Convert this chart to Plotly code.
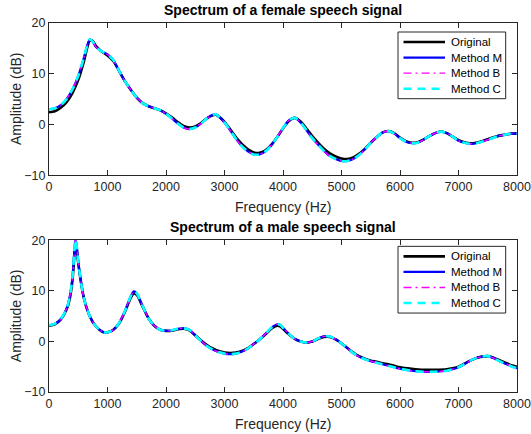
import plotly.graph_objects as go

# ---------------- data ----------------
female_freq = [0, 100, 200, 300, 400, 500, 600, 650, 700, 750, 800, 900, 1000, 1100, 1200, 1300, 1400, 1500,
               1600, 1700, 1800, 1900, 2000, 2100, 2200, 2300, 2400, 2500, 2600, 2700, 2800, 2850, 2900, 3000,
               3100, 3200, 3300, 3400, 3500, 3600, 3700, 3800, 3900, 4000, 4100, 4200, 4300, 4400, 4500, 4600,
               4700, 4800, 4900, 5000, 5100, 5200, 5300, 5400, 5500, 5600, 5700, 5800, 5900, 6000, 6100, 6200,
               6300, 6400, 6500, 6600, 6700, 6800, 6900, 7000, 7100, 7200, 7300, 7400, 7500, 7600, 7700, 7800,
               7900, 8000]
female_original = [2.4, 2.6, 3.3, 4.4, 6.2, 8.8, 12.6, 15.0, 16.6, 16.4, 15.5, 14.4, 13.6, 12.5, 10.5, 8.5, 6.8, 5.3,
                   4.2, 3.6, 3.2, 2.8, 2.2, 1.4, 0.5, -0.3, -0.6, -0.4, 0.3, 1.2, 1.8, 1.9, 1.6, 0.5,
                   -1.0, -2.6, -3.9, -4.9, -5.5, -5.6, -5.1, -4.0, -2.5, -0.8, 0.7, 1.3, 0.6, -0.8, -2.3, -3.6,
                   -4.8, -5.7, -6.3, -6.7, -6.8, -6.5, -5.8, -4.8, -3.6, -2.5, -1.6, -1.3, -1.7, -2.6, -3.3, -3.6,
                   -3.5, -3.0, -2.3, -1.7, -1.4, -1.7, -2.4, -3.1, -3.5, -3.7, -3.6, -3.3, -2.9, -2.5, -2.2, -2.0,
                   -1.8, -1.8]
female_method_m = [3.0, 3.2, 3.8, 5.0, 6.9, 9.6, 13.3, 15.5, 16.8, 16.3, 15.3, 14.4, 13.8, 12.7, 10.5, 8.5, 6.8, 5.3,
                   4.2, 3.6, 3.2, 2.8, 2.1, 1.2, 0.2, -0.6, -0.9, -0.6, 0.2, 1.2, 1.9, 2.0, 1.6, 0.4,
                   -1.2, -2.9, -4.3, -5.3, -5.9, -5.9, -5.3, -4.1, -2.5, -0.7, 0.8, 1.3, 0.4, -1.1, -2.7, -4.0,
                   -5.2, -6.2, -6.8, -7.2, -7.2, -6.8, -6.0, -4.9, -3.6, -2.5, -1.6, -1.3, -1.8, -2.7, -3.4, -3.7,
                   -3.6, -3.0, -2.3, -1.7, -1.4, -1.7, -2.4, -3.2, -3.6, -3.8, -3.7, -3.4, -3.0, -2.6, -2.2, -2.0,
                   -1.8, -1.8]
female_method_b = list(female_method_m)
female_method_c = list(female_method_m)

male_freq = [0, 100, 200, 300, 350, 400, 430, 450, 470, 500, 550, 600, 700, 800, 900, 950, 1000, 1100, 1200,
             1300, 1400, 1450, 1500, 1600, 1700, 1800, 1900, 2000, 2100, 2200, 2300, 2400, 2500, 2600, 2700,
             2800, 2900, 3000, 3100, 3200, 3300, 3400, 3500, 3600, 3700, 3800, 3900, 3950, 4000, 4100, 4200,
             4300, 4400, 4500, 4600, 4700, 4800, 4900, 5000, 5100, 5200, 5300, 5400, 5500, 5600, 5700, 5800,
             5900, 6000, 6200, 6400, 6600, 6800, 6900, 7000, 7100, 7200, 7300, 7400, 7500, 7600, 7700, 7800,
             7900, 8000]
male_original = [3.1, 3.4, 4.3, 6.3, 8.2, 12.0, 16.5, 19.2, 18.5, 15.5, 11.5, 8.4, 4.9, 3.0, 2.0, 1.8, 1.8, 2.3, 3.6,
                 5.9, 8.7, 9.5, 9.2, 6.9, 4.6, 3.1, 2.3, 2.1, 2.1, 2.4, 2.5, 2.2, 1.2, 0.2, -0.7,
                 -1.4, -1.9, -2.2, -2.3, -2.2, -1.9, -1.3, -0.5, 0.4, 1.4, 2.5, 3.1, 3.0, 2.5, 1.4, 0.5,
                 0.0, -0.2, 0.0, 0.5, 0.9, 0.9, 0.4, -0.4, -1.3, -2.2, -2.9, -3.4, -3.8, -4.0, -4.3, -4.5,
                 -4.8, -5.1, -5.4, -5.6, -5.6, -5.5, -5.3, -5.0, -4.4, -3.8, -3.3, -3.0, -2.9, -3.2, -3.7, -4.2,
                 -4.7, -5.0]
male_method_m = [3.2, 3.5, 4.4, 6.5, 8.6, 12.6, 17.4, 20.2, 19.2, 15.8, 11.5, 8.4, 4.9, 3.0, 2.0, 1.8, 1.8, 2.3, 3.7,
                 6.1, 9.0, 9.9, 9.5, 7.0, 4.6, 3.1, 2.3, 2.1, 2.2, 2.5, 2.6, 2.3, 1.2, 0.1, -0.9,
                 -1.6, -2.1, -2.4, -2.5, -2.4, -2.0, -1.4, -0.5, 0.4, 1.5, 2.7, 3.4, 3.3, 2.7, 1.5, 0.5,
                 0.0, -0.2, 0.0, 0.6, 1.0, 1.0, 0.4, -0.4, -1.3, -2.3, -3.0, -3.5, -3.9, -4.2, -4.5, -4.8,
                 -5.1, -5.4, -5.8, -6.0, -6.0, -5.8, -5.5, -5.1, -4.5, -3.8, -3.3, -3.0, -2.9, -3.3, -3.9, -4.4,
                 -4.9, -5.3]
male_method_b = list(male_method_m)
male_method_c = list(male_method_m)

series_names = ["Original", "Method M", "Method B", "Method C"]
titles = ["Spectrum of a female speech signal", "Spectrum of a male speech signal"]
x_label = "Frequency (Hz)"
y_label = "Amplitude (dB)"
x_ticks = [0, 1000, 2000, 3000, 4000, 5000, 6000, 7000, 8000]
y_ticks = [-10, 0, 10, 20]

# ---------------- styles / layout ----------------
FONT = "Liberation Sans, Arial, Helvetica, sans-serif"
AX = "#262626"
styles = [
    dict(color="black", width=2.6, dash="solid"),
    dict(color="#0000ff", width=2.2, dash="solid"),
    dict(color="#ff00ff", width=1.4, dash="8px,4px,2px,4px"),
    dict(color="#00ffff", width=2.6, dash="8px,6px"),
]

W, H = 531, 434
M = dict(l=49, r=14, t=23, b=42)
PLOT_W = W - M["l"] - M["r"]
PLOT_H = H - M["t"] - M["b"]
Y_TOP = [0.5875, 1.0]
Y_BOT = [0.0, 0.411]

fig = go.Figure()
panels = [
    (female_freq, [female_original, female_method_m, female_method_b, female_method_c], "x", "y", Y_TOP, 9),
    (male_freq, [male_original, male_method_m, male_method_b, male_method_c], "x2", "y2", Y_BOT, 6),
]
for freq, series, xa, ya, dom, _ in panels:
    for name, vals, st in zip(series_names, series, styles):
        fig.add_trace(go.Scatter(
            x=freq, y=vals, mode="lines", name=name, showlegend=False,
            line=dict(color=st["color"], width=st["width"], dash=st["dash"], shape="spline", smoothing=0.8),
            xaxis=xa, yaxis=ya,
        ))

# compact MATLAB-style legend box (drawn in axis-domain coordinates)
shapes = []
annotations = []
for freq, series, xa, ya, dom, top_off in panels:
    ax_h = (dom[1] - dom[0]) * PLOT_H

    def fy(px, ax_h=ax_h):
        return 1 - px / ax_h          # px below axes top -> domain fraction

    def fx(px):
        return px / PLOT_W            # px right of axes left -> domain fraction

    xr, yr = xa + " domain", ya + " domain"
    box_left, box_right, box_h = 349, 456.7, 66.7
    shapes.append(dict(type="rect", xref=xr, yref=yr, x0=fx(box_left), x1=fx(box_right),
                       y0=fy(top_off + box_h), y1=fy(top_off),
                       line=dict(color=AX, width=1), fillcolor="white", layer="above"))
    for i, (name, st) in enumerate(zip(series_names, styles)):
        yy = fy(top_off + 10 + 15.57 * i)
        shapes.append(dict(type="line", xref=xr, yref=yr, x0=fx(354.5), x1=fx(396), y0=yy, y1=yy,
                           line=dict(color=st["color"], width=st["width"], dash=st["dash"]), layer="above"))
        annotations.append(dict(text=name, xref=xr, yref=yr, x=fx(400), y=yy, xanchor="left",
                                yanchor="middle", showarrow=False,
                                font=dict(family=FONT, size=11.5, color="black")))

axis_common = dict(
    showgrid=False, zeroline=False, showline=True, linecolor=AX, linewidth=1,
    mirror="ticks", ticks="inside", ticklen=5, tickcolor=AX, automargin=False,
    tickfont=dict(family=FONT, size=12.5, color=AX), ticklabeloverflow="allow",
)
xaxis_common = dict(axis_common, range=[0, 8000], tickvals=x_ticks)
yaxis_common = dict(axis_common, range=[-10, 20], tickvals=y_ticks)


def txt(text, x, y, xshift=0, yshift=0, size=14, bold=False, angle=0):
    return dict(text=("<b>%s</b>" % text) if bold else text, xref="paper", yref="paper",
                x=x, y=y, xshift=xshift, yshift=yshift, xanchor="center", yanchor="middle",
                textangle=angle, showarrow=False,
                font=dict(family=FONT, size=size, color="black" if bold else AX))


for dom, title in zip([Y_TOP, Y_BOT], titles):
    annotations.append(txt(title, 0.5, dom[1], yshift=13, size=14, bold=True))
    annotations.append(txt(x_label, 0.5, dom[0], yshift=-32, size=14))
    annotations.append(txt(y_label, 0, (dom[0] + dom[1]) / 2, xshift=-33, size=14, angle=-90))

fig.update_layout(
    width=W, height=H,
    margin=M,
    paper_bgcolor="white", plot_bgcolor="white",
    xaxis=dict(xaxis_common, domain=[0, 1], anchor="y"),
    yaxis=dict(yaxis_common, domain=Y_TOP, anchor="x"),
    xaxis2=dict(xaxis_common, domain=[0, 1], anchor="y2"),
    yaxis2=dict(yaxis_common, domain=Y_BOT, anchor="x2"),
    showlegend=False,
    shapes=shapes,
    annotations=annotations,
)

fig.write_html("out.html", config={"displayModeBar": False},
               post_script="document.body.style.margin='0px';document.body.style.overflow='hidden';")
